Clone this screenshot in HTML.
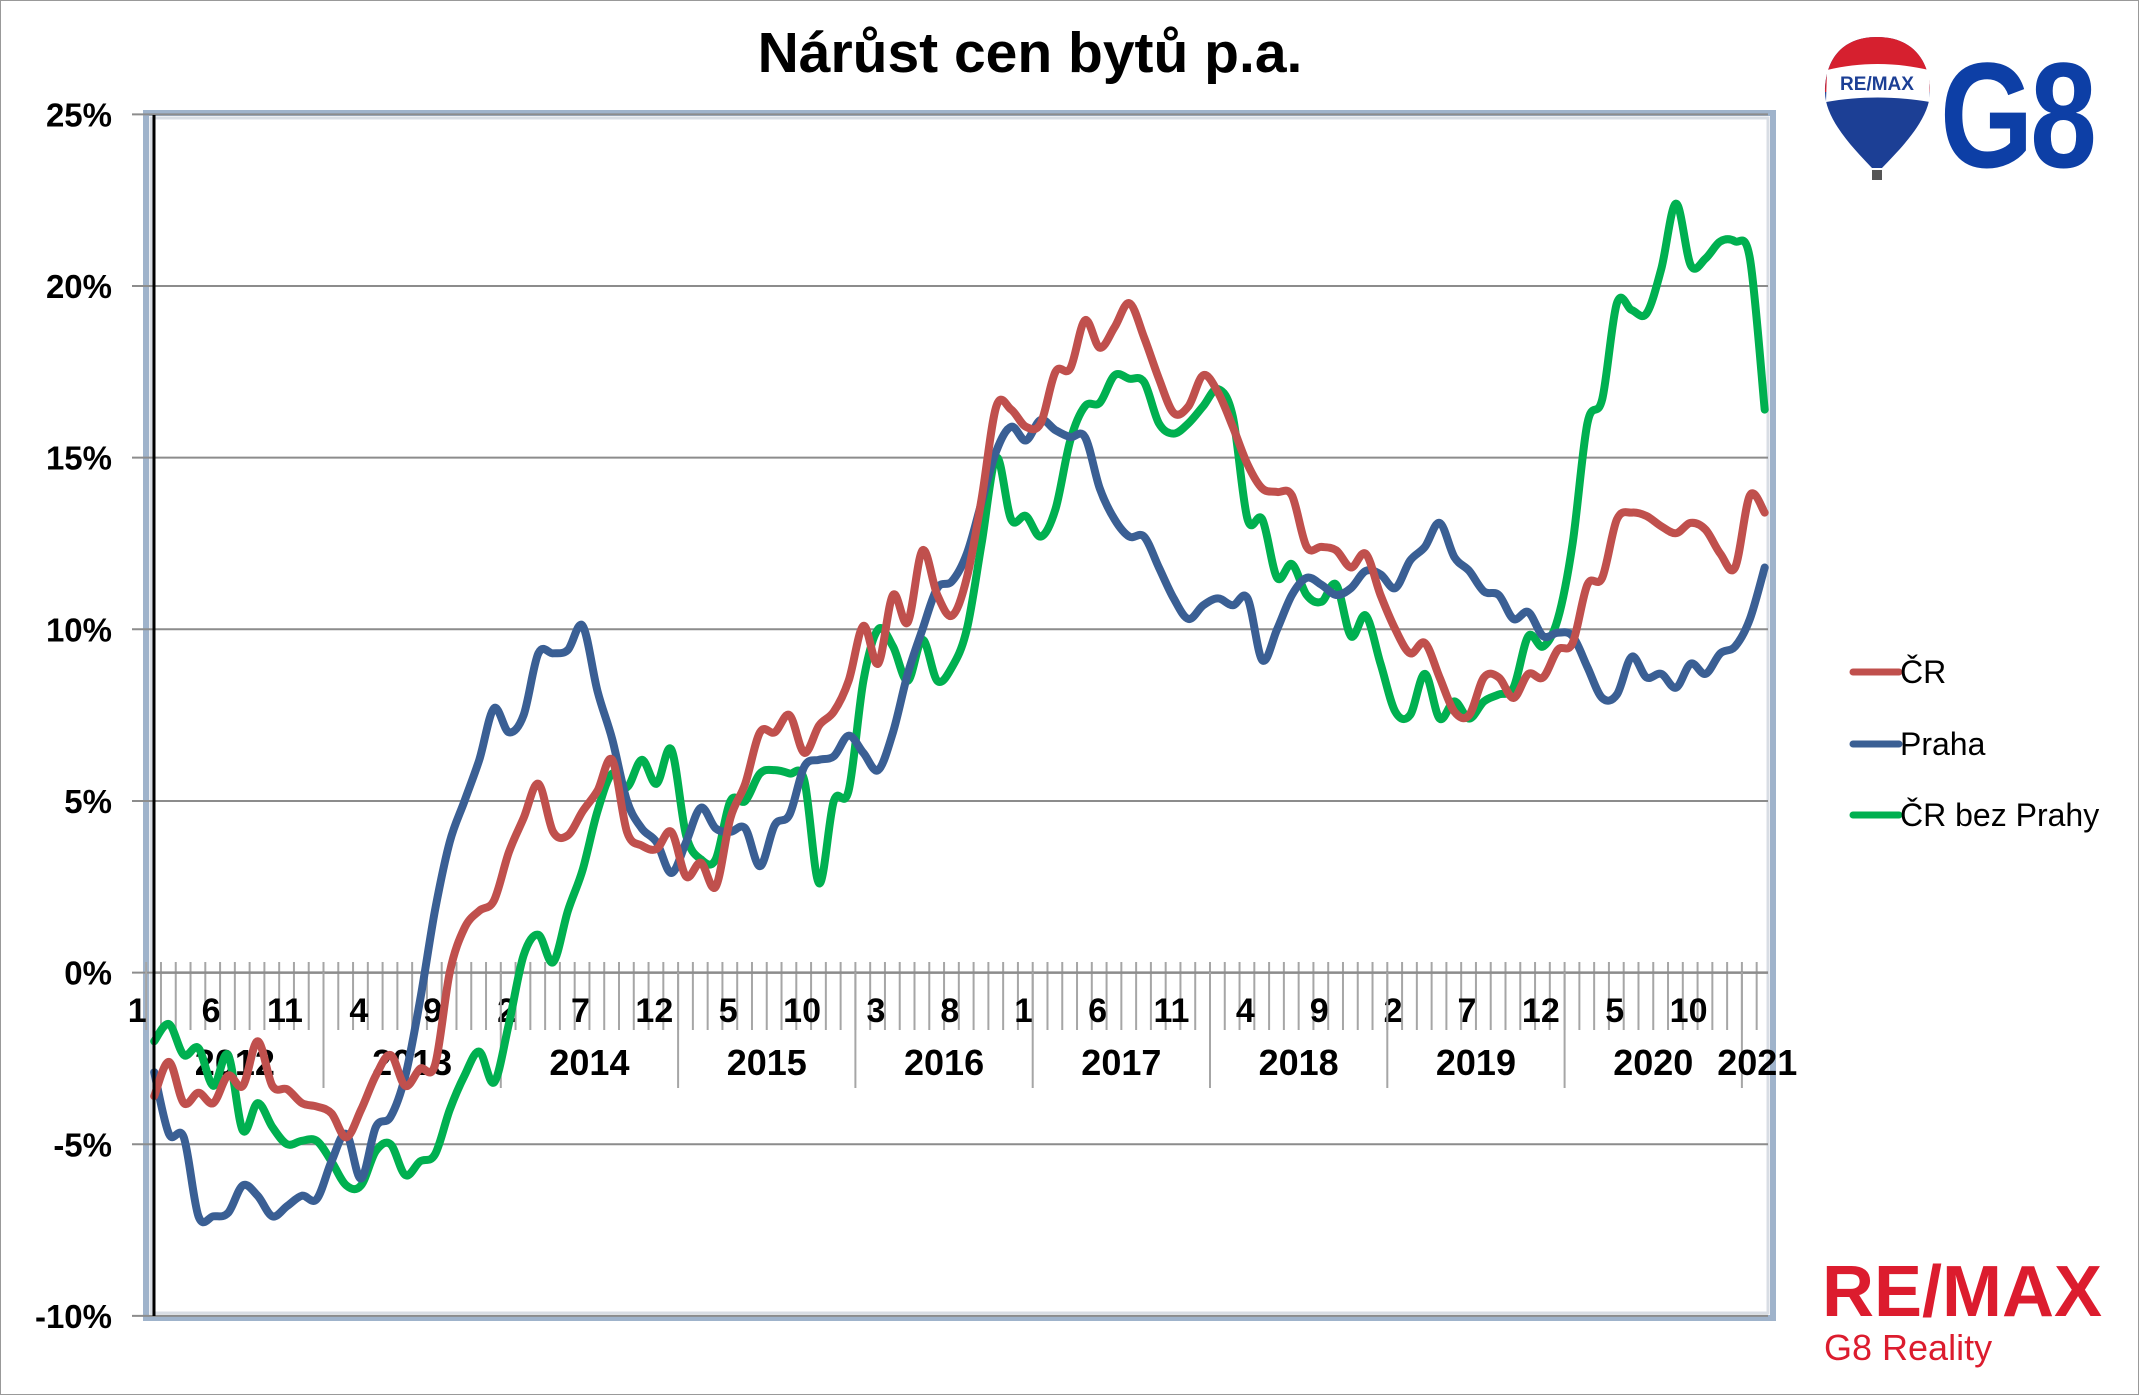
<!DOCTYPE html>
<html><head><meta charset="utf-8"><style>
html,body{margin:0;padding:0;background:#fff}
svg{display:block}
text{font-family:"Liberation Sans",sans-serif}
</style></head><body>
<svg id="chart" width="2139" height="1395" viewBox="0 0 2139 1395" xmlns="http://www.w3.org/2000/svg">
<rect x="0.5" y="0.5" width="2138" height="1394" fill="#fff" stroke="#999" stroke-width="1"/>
<text x="1030" y="72" text-anchor="middle" font-size="57" font-weight="bold">Nárůst cen bytů p.a.</text>
<g id="plot-frame">
<rect x="146" y="113" width="1627" height="1205" fill="none" stroke="#9fb3cb" stroke-width="6"/>
<rect x="151" y="118" width="1617" height="1195" fill="none" stroke="#d8dde4" stroke-width="3"/>
</g>
<g id="grid"></g>
<g id="yaxis"></g>
<g id="xaxis"></g>
<g id="series"></g>
<line x1="154" y1="115" x2="154" y2="1316" stroke="#000" stroke-width="3"/>
<g id="legend"></g>
<g>
<path d="M1877,37 C1840,37 1825,62 1825,92 C1825,120 1855,150 1872,168 L1882,168 C1899,150 1930,120 1930,92 C1930,62 1914,37 1877,37 Z" fill="#1c3f95"/>
<path d="M1877,37 C1840,37 1825,62 1825,92 L1930,92 C1930,62 1914,37 1877,37 Z" fill="#d6202f"/>
<path d="M1827,70 C1860,62 1895,62 1929,70 L1930,102 C1895,96 1860,96 1826,102 Z" fill="#fff"/>
<text x="1877" y="90" text-anchor="middle" font-size="19" font-weight="bold" fill="#1c3f95">RE/MAX</text>
<rect x="1872" y="170" width="10" height="10" fill="#555"/>
</g>
<text x="0" y="0" font-size="150" font-weight="bold" fill="#0d3fa6" letter-spacing="-4" transform="translate(1940,167) scale(0.8,1)">G8</text>
<text x="1822" y="1316" font-size="72" font-weight="bold" fill="#dc1c2e">RE/MAX</text>
<text x="1824" y="1360" font-size="36" fill="#dc1c2e">G8 Reality</text>
</svg>
<script>
const yTicks = [-10, -5, 0, 5, 10, 15, 20, 25];
const yTickLabels = ["-10%", "-5%", "0%", "5%", "10%", "15%", "20%", "25%"];
const years = ["2012","2013","2014","2015","2016","2017","2018","2019","2020","2021"];
const seriesNames = ["ČR", "Praha", "ČR bez Prahy"];
const seriesColors = ["#c0504d", "#3a5f94", "#00b050"];
const cr = [-3.6,-2.6,-3.8,-3.5,-3.8,-3.0,-3.3,-2.0,-3.3,-3.4,-3.8,-3.9,-4.1,-4.8,-4.0,-3.0,-2.4,-3.3,-2.8,-2.7,0.0,1.3,1.8,2.1,3.5,4.5,5.5,4.1,4.0,4.7,5.3,6.2,4.1,3.7,3.6,4.1,2.8,3.2,2.5,4.5,5.5,7.0,7.0,7.5,6.4,7.2,7.6,8.5,10.1,9.0,11.0,10.2,12.3,11.0,10.4,11.5,13.8,16.5,16.4,15.9,16.0,17.5,17.6,19.0,18.2,18.8,19.5,18.5,17.3,16.3,16.5,17.4,16.9,15.9,14.8,14.1,14.0,13.9,12.4,12.4,12.3,11.8,12.2,11.0,10.0,9.3,9.6,8.6,7.6,7.5,8.6,8.6,8.0,8.7,8.6,9.4,9.6,11.3,11.5,13.2,13.4,13.3,13.0,12.8,13.1,12.9,12.2,11.8,13.9,13.4];
const praha = [-2.9,-4.7,-4.8,-7.1,-7.1,-7.0,-6.2,-6.5,-7.1,-6.8,-6.5,-6.6,-5.5,-4.7,-6.0,-4.5,-4.2,-3.0,-0.8,1.8,3.8,5.0,6.2,7.7,7.0,7.5,9.3,9.3,9.4,10.1,8.2,6.8,5.0,4.2,3.8,2.9,3.8,4.8,4.2,4.1,4.2,3.1,4.3,4.6,6.0,6.2,6.3,6.9,6.4,5.9,7.0,8.7,10.0,11.2,11.4,12.2,13.7,15.2,15.9,15.5,16.1,15.8,15.6,15.6,14.1,13.2,12.7,12.7,11.8,10.9,10.3,10.7,10.9,10.7,10.9,9.1,10.0,11.0,11.5,11.3,11.0,11.2,11.7,11.6,11.2,12.0,12.4,13.1,12.1,11.7,11.1,11.0,10.3,10.5,9.8,9.9,9.8,8.9,8.0,8.1,9.2,8.6,8.7,8.3,9.0,8.7,9.3,9.5,10.3,11.8];
const bezPrahy = [-2.0,-1.5,-2.4,-2.2,-3.3,-2.4,-4.6,-3.8,-4.5,-5.0,-4.9,-4.9,-5.5,-6.2,-6.2,-5.2,-5.0,-5.9,-5.5,-5.3,-4.0,-3.0,-2.3,-3.2,-1.5,0.5,1.1,0.3,1.8,3.0,4.7,5.8,5.4,6.2,5.5,6.5,4.0,3.3,3.3,5.0,5.0,5.8,5.9,5.8,5.6,2.6,5.0,5.3,8.5,10.0,9.5,8.5,9.7,8.5,8.9,10.0,12.5,15.0,13.2,13.3,12.7,13.5,15.5,16.5,16.6,17.4,17.3,17.2,16.0,15.7,16.0,16.5,17.0,16.2,13.2,13.2,11.5,11.9,11.0,10.8,11.3,9.8,10.4,9.0,7.6,7.5,8.7,7.4,7.9,7.4,7.9,8.1,8.3,9.8,9.5,10.3,12.5,16.0,16.7,19.5,19.3,19.2,20.5,22.4,20.6,20.8,21.3,21.3,20.8,16.4];

const NS = "http://www.w3.org/2000/svg";
const X0 = 154.2, DX = 14.775, Y0 = 972.6, DY = 34.33;
function xScale(i){ return X0 + i*DX; }
function yScale(v){ return Y0 - v*DY; }
function mk(tag, attrs, parent){ const e=document.createElementNS(NS,tag); for(const k in attrs) e.setAttribute(k,attrs[k]); parent.appendChild(e); return e; }

const grid = document.getElementById('grid');
const yaxis = document.getElementById('yaxis');
yTicks.forEach((t,k)=>{
  const y = yScale(t);
  const gl = mk('line',{x1:132,y1:y,x2:1768,y2:y,stroke:'#8c8c8c','stroke-width':2},grid);
  
  
  const tl = mk('text',{x:112,y:y+12,'text-anchor':'end','font-size':33,'font-weight':'bold'},yaxis);
  tl.textContent = yTickLabels[k];
  
  
});

const xaxis = document.getElementById('xaxis');
const n = cr.length;
for(let i=0;i<n;i++){
  const x = xScale(i) - 8;
  const tk = mk('line',{x1:x,y1:962,x2:x,y2:1030,stroke:'#a6a6a6','stroke-width':2},xaxis);
  
  
}
mk('line',{x1:154,y1:972.6,x2:1768,y2:972.6,stroke:'#8c8c8c','stroke-width':2.5},xaxis);
for(let i=0;i<n;i+=5){
  const ml = mk('text',{x:xScale(i)-17,y:1022,'text-anchor':'middle','font-size':34,'font-weight':'bold'},xaxis);
  ml.textContent = String((i%12)+1);
  
  
}
for(let k=1;k<years.length;k++){
  const x = xScale(12*k)-8;
  const sep = mk('line',{x1:x,y1:972,x2:x,y2:1088,stroke:'#a6a6a6','stroke-width':2},xaxis);
  
  
}
years.forEach((yr,k)=>{
  const a = xScale(12*k)-8, b = Math.min(xScale(12*k+12)-8, xScale(n-1)+8);
  const yl = mk('text',{x:(a+b)/2,y:1075,'text-anchor':'middle','font-size':36,'font-weight':'bold'},xaxis);
  yl.textContent = yr;
  
  
});

function smoothPath(vals){
  const p = vals.map((v,i)=>[xScale(i),yScale(v)]);
  let d = 'M'+p[0][0].toFixed(1)+','+p[0][1].toFixed(1);
  for(let i=0;i<p.length-1;i++){
    const p0=p[Math.max(0,i-1)], p1=p[i], p2=p[i+1], p3=p[Math.min(p.length-1,i+2)];
    const c1=[p1[0]+(p2[0]-p0[0])/6, p1[1]+(p2[1]-p0[1])/6];
    const c2=[p2[0]-(p3[0]-p1[0])/6, p2[1]-(p3[1]-p1[1])/6];
    d+=' C'+c1[0].toFixed(1)+','+c1[1].toFixed(1)+' '+c2[0].toFixed(1)+','+c2[1].toFixed(1)+' '+p2[0].toFixed(1)+','+p2[1].toFixed(1);
  }
  return d;
}
const seriesG = document.getElementById('series');
const allSeries = [cr, praha, bezPrahy];
const seriesIds = ['line-cr','line-praha','line-cr-bez-prahy'];
[2,1,0].forEach(s=>{
  const pth = mk('path',{d:smoothPath(allSeries[s]),fill:'none',stroke:seriesColors[s],'stroke-width':8,'stroke-linejoin':'round','stroke-linecap':'round'},seriesG);
  
  
});

const legend = document.getElementById('legend');
const legY = [672, 744, 815];
seriesNames.forEach((nm,s)=>{
  const ln = mk('line',{x1:1853,y1:legY[s],x2:1899,y2:legY[s],stroke:seriesColors[s],'stroke-width':7,'stroke-linecap':'round'},legend);
  
  
  const lt = mk('text',{x:1900,y:legY[s]+11,'font-size':32},legend);
  lt.textContent = nm;
  
  
});
</script>
</body></html>
